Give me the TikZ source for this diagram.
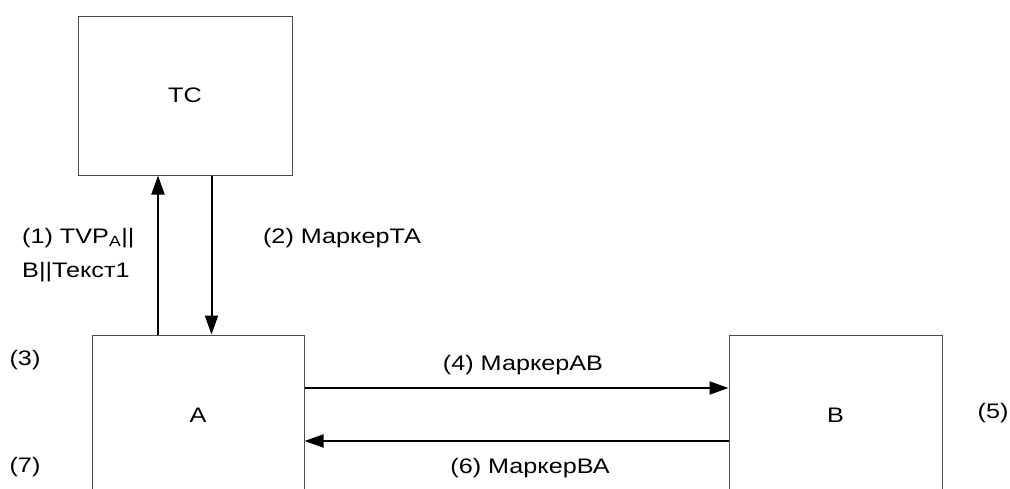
\documentclass[tikz,border=0pt]{standalone}
\usepackage{fontspec}
\newfontfamily\dfont[FakeStretch=1.2]{Liberation Sans}
\usetikzlibrary{arrows.meta}
\begin{document}
\begin{tikzpicture}[x=1pt,y=-1pt,
  every node/.style={font=\dfont\fontsize{21}{34}\selectfont, inner sep=0pt},
  party/.style={draw=black!70, line width=1pt, minimum width=212pt, minimum height=160pt},
  msg/.style={line width=2pt, -{Triangle[length=19pt,width=13pt]}},
  lbl/.style={}]
  \useasboundingbox (0,0) rectangle (1010,488);
  \clip (0,0) rectangle (1010,488);

  % parties
  \node[party, minimum width=214pt, minimum height=159pt] (TC) at (185,95.5) {TC};
  \node[party] (A) at (198,415) {A};
  \node[party, minimum width=213pt] (B) at (835.5,415) {B};

  % vertical exchange with TC
  \coordinate (up) at (158,0);
  \coordinate (down) at (211.5,0);
  \draw[msg] (A.north -| up) -- (TC.south -| up);
  \draw[msg] (TC.south -| down) -- (A.north -| down);

  % horizontal exchange between A and B
  \coordinate (ab) at (0,388);
  \coordinate (ba) at (0,441);
  \draw[msg] (A.east |- ab) -- (B.west |- ab);
  \draw[msg] (B.west |- ba) -- (A.east |- ba);

  % message labels
  \node[lbl, align=left, anchor=west] (m1) at (22,255) {(1) TVP\textsubscript{A}||\\B||Текст1};
  \node[lbl] (m2) at (342,238) {(2) МаркерТА};
  \node[lbl] (m4) at (523,365) {(4) МаркерАВ};
  \node[lbl] (m6) at (530,468) {(6) МаркерВА};

  % step labels
  \node[lbl] (s3) at (25,360) {(3)};
  \node[lbl] (s7) at (25,467) {(7)};
  \node[lbl] (s5) at (993,413) {(5)};
\end{tikzpicture}
\end{document}
